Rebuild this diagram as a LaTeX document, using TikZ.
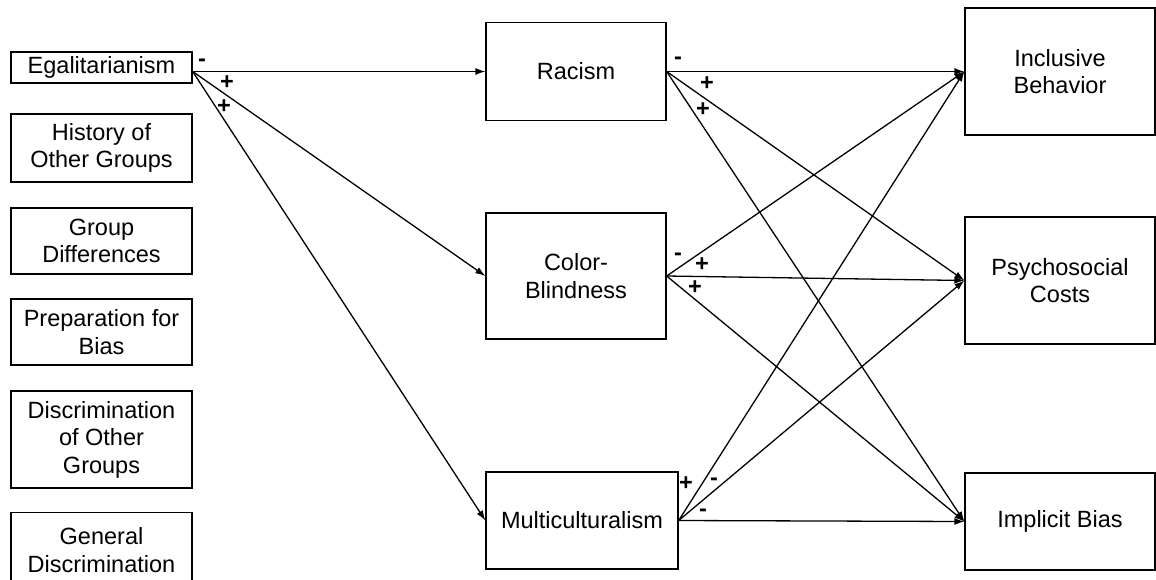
\documentclass[tikz,border=0pt]{standalone}
\usepackage{fontspec}
\setmainfont{Liberation Sans}
\usetikzlibrary{shapes,arrows.meta}
\newcommand{\boxfont}{\fontsize{23.5}{27.5}\selectfont}
\tikzset{
	factor/.style  = {draw, rectangle, minimum width = 181, align = center,
		inner sep = 0},
	belief/.style  = {draw, rectangle, align = center, inner sep = 0},
	outcome/.style = {draw, rectangle, minimum width = 190, align = center,
		inner sep = 0},
	sign/.style    = {font = \boxfont\bfseries, inner sep = 0} % sign of a path
}

\begin{document}
\begin{tikzpicture}[x=1pt, y=-1pt, line width=1.3pt, >={Latex[length=10pt,width=7pt]},
	font=\boxfont]
	\path[use as bounding box] (0,0) rectangle (1156,579);
	\clip (0,0) rectangle (1156,579);
	
	% predictors
	\draw
	node at (101.5,67.5)[factor, minimum height = 31] (egal) {Egalitarianism}
	node at (101.5,148)[factor, minimum height = 68] (hist) {History of\\Other Groups}
	node at (101.5,241)[factor, minimum height = 66] (grpd) {Group\\Differences}
	node at (101.5,332)[factor, minimum height = 66] (prep) {Preparation for\\Bias}
	node at (101.5,439.5)[factor, minimum height = 97] (disc) {Discrimination\\of Other\\Groups}
	node at (101.5,550)[factor, minimum height = 75] (gend) {General\\Discrimination}
	;
	
	% beliefs
	\draw
	node at (576,71.5)[belief, minimum width = 180, minimum height = 98] (racism) {Racism}
	node at (576,276)[belief, minimum width = 180, minimum height = 126] (colorb) {Color-\\Blindness}
	node at (582,520.5)[belief, minimum width = 192, minimum height = 97] (multi) {Multiculturalism}
	;
	
	% outcomes
	\draw
	node at (1060,71.5)[outcome, minimum height = 127] (incl) {Inclusive\\Behavior}
	node at (1060,280.5)[outcome, minimum height = 127] (psych) {Psychosocial\\Costs}
	node at (1060,521.5)[outcome, minimum height = 97] (impl) {Implicit Bias}
	;
	
	\coordinate (egalout) at ([yshift=-4pt]egal.east);
	
	\draw[->](egalout) -- (racism.west);
	\draw[->](egalout) -- (colorb.west);
	\draw[->](egalout) -- (multi.west);
	
	\draw[->](racism.east) -- (incl.west);
	\draw[->](racism.east) -- (psych.west);
	\draw[->](racism.east) -- (impl.west);
	
	\draw[->](colorb.east) -- (incl.west);
	\draw[->](colorb.east) -- (psych.west);
	\draw[->](colorb.east) -- (impl.west);
	
	\draw[->](multi.east) -- (incl.west);
	\draw[->](multi.east) -- (psych.west);
	\draw[->](multi.east) -- (impl.west);
	
	% signs
	\draw
	node at (202,63)[sign] (eg1) {-}
	node at (227,83)[sign] (eg2) {+}
	node at (224,107)[sign] (eg3) {+}
	node at (678,61)[sign] (ra1) {-}
	node at (707,84)[sign] (ra2) {+}
	node at (703,110)[sign] (ra3) {+}
	node at (678,257)[sign] (cb1) {-}
	node at (702,265)[sign] (cb2) {+}
	node at (695,288)[sign] (cb3) {+}
	node at (686,484)[sign] (mc1) {+}
	node at (714,482)[sign] (mc2) {-}
	node at (703,513)[sign] (mc3) {-}
	;
\end{tikzpicture}
\end{document}
